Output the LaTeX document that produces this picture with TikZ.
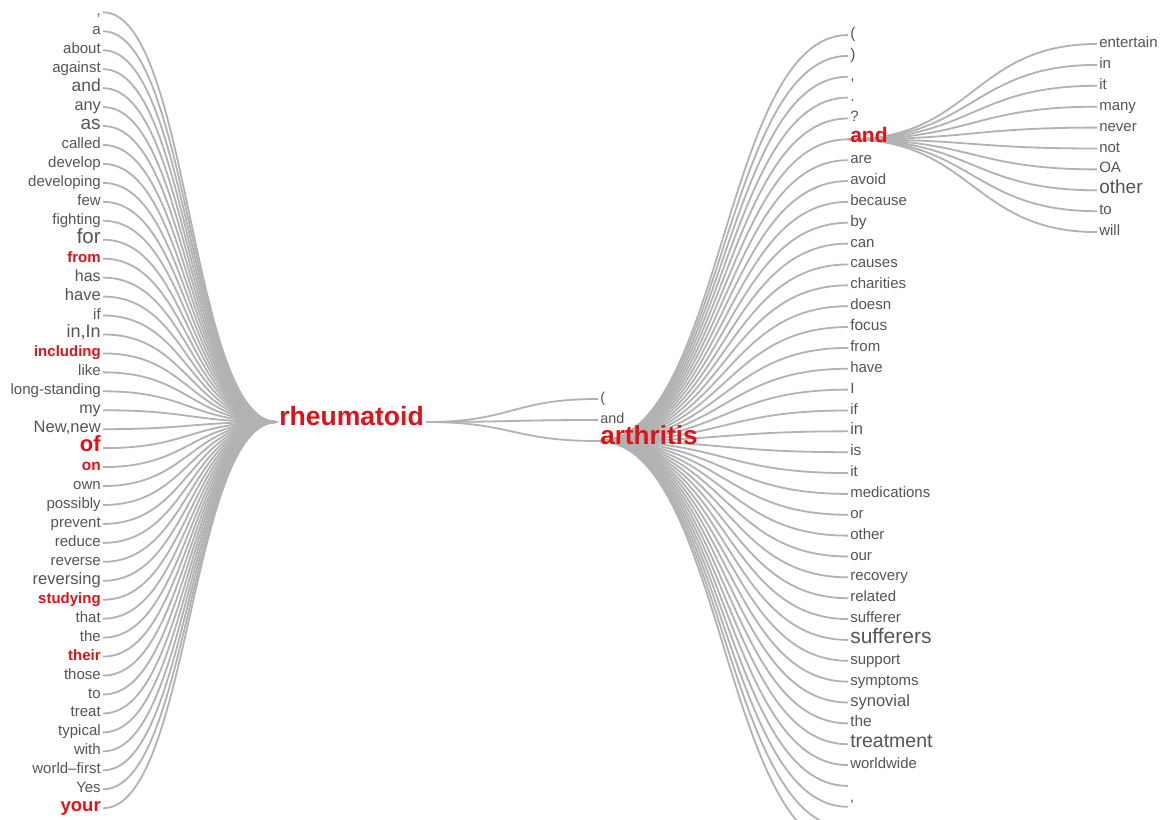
\documentclass[tikz,border=0pt]{standalone}
\usepackage{fontspec}
\setmainfont{Liberation Sans}
\usetikzlibrary{backgrounds,calc}
\definecolor{txt}{RGB}{85,85,85}
\definecolor{hot}{RGB}{222,18,24}
\definecolor{ln}{RGB}{178,178,178}
\tikzset{
  lw/.style={anchor=mid east, inner sep=0pt, inner xsep=1.5pt, text=txt, font=\fontsize{#1}{#1}\selectfont},
  rw/.style={anchor=mid west, inner sep=0pt, inner xsep=1.5pt, text=txt, font=\fontsize{#1}{#1}\selectfont},
  lhot/.style={lw=#1, text=hot, font=\fontsize{#1}{#1}\selectfont\bfseries},
  rhot/.style={rw=#1, text=hot, font=\fontsize{#1}{#1}\selectfont\bfseries},
  conn/.style={draw=ln, line width=1.35pt}
}
\newcommand\lk[2]{\draw[conn] let \p1=(#1), \p2=(#2) in (\p1) .. controls ({(\x1+\x2)/2},\y1) and ({(\x1+\x2)/2},\y2) .. (\p2);}
\begin{document}
\begin{tikzpicture}[x=0.75pt,y=-0.75pt]
\useasboundingbox (0,0) rectangle (1161,820);
% roots
\node[rhot=19.9] (rh) at (277,422) {rheumatoid};
\node[rw=10.8] (c1) at (598,399) {(};
\node[rw=10.8] (c2) at (598,420) {and};
\node[rhot=19.6] (ar) at (598,441) {arthritis};
% left column
\node[lw=11.25] (L0) at (103,12.3) {,};
\node[lw=11.25] (L1) at (103,31.25) {a};
\node[lw=11.25] (L2) at (103,50.2) {about};
\node[lw=11.25] (L3) at (103,69.15) {against};
\node[lw=13.1] (L4) at (103,88.1) {and};
\node[lw=12.2] (L5) at (103,107.05) {any};
\node[lw=14.25] (L6) at (103,126) {as};
\node[lw=11.25] (L7) at (103,144.95) {called};
\node[lw=11.25] (L8) at (103,163.9) {develop};
\node[lw=11.25] (L9) at (103,182.85) {developing};
\node[lw=11.25] (L10) at (103,201.8) {few};
\node[lw=11.25] (L11) at (103,220.75) {fighting};
\node[lw=15.4] (L12) at (103,239.7) {for};
\node[lhot=11.25] (L13) at (103,258.65) {from};
\node[lw=12] (L14) at (103,277.6) {has};
\node[lw=12.4] (L15) at (103,296.55) {have};
\node[lw=11.25] (L16) at (103,315.5) {if};
\node[lw=13.5] (L17) at (103,334.45) {in,In};
\node[lhot=11.25] (L18) at (103,353.4) {including};
\node[lw=11.25] (L19) at (103,372.35) {like};
\node[lw=11.25] (L20) at (103,391.3) {long-standing};
\node[lw=12] (L21) at (103,410.25) {my};
\node[lw=12.4] (L22) at (103,429.2) {New,new};
\node[lhot=16.5] (L23) at (103,448.15) {of};
\node[lhot=11.6] (L24) at (103,467.1) {on};
\node[lw=11.25] (L25) at (103,486.05) {own};
\node[lw=11.25] (L26) at (103,505) {possibly};
\node[lw=11.25] (L27) at (103,523.95) {prevent};
\node[lw=11.25] (L28) at (103,542.9) {reduce};
\node[lw=11.25] (L29) at (103,561.85) {reverse};
\node[lw=12.4] (L30) at (103,580.8) {reversing};
\node[lhot=11.25] (L31) at (103,599.75) {studying};
\node[lw=11.25] (L32) at (103,618.7) {that};
\node[lw=11.25] (L33) at (103,637.65) {the};
\node[lhot=11.25] (L34) at (103,656.6) {their};
\node[lw=11.25] (L35) at (103,675.55) {those};
\node[lw=11.25] (L36) at (103,694.5) {to};
\node[lw=11.25] (L37) at (103,713.45) {treat};
\node[lw=11.25] (L38) at (103,732.4) {typical};
\node[lw=11.25] (L39) at (103,751.35) {with};
\node[lw=11.25] (L40) at (103,770.3) {world--first};
\node[lw=11.25] (L41) at (103,789.25) {Yes};
\node[lhot=13.9] (L42) at (103,808.2) {your};
% right column
\node[rw=11.6] (R0) at (848,35) {(};
\node[rw=11.6] (R1) at (848,55.86) {)};
\node[rw=11.6] (R2) at (848,76.72) {,};
\node[rw=11.6] (R3) at (848,97.58) {.};
\node[rw=11.25] (R4) at (848,118.44) {?};
\node[rhot=15.75] (R5) at (848,139.3) {and};
\node[rw=11.25] (R6) at (848,160.16) {are};
\node[rw=11.25] (R7) at (848,181.02) {avoid};
\node[rw=11.25] (R8) at (848,201.88) {because};
\node[rw=11.6] (R9) at (848,222.74) {by};
\node[rw=11.25] (R10) at (848,243.6) {can};
\node[rw=11.25] (R11) at (848,264.46) {causes};
\node[rw=11.25] (R12) at (848,285.32) {charities};
\node[rw=11.25] (R13) at (848,306.18) {doesn};
\node[rw=11.6] (R14) at (848,327.04) {focus};
\node[rw=11.25] (R15) at (848,347.9) {from};
\node[rw=11.25] (R16) at (848,368.76) {have};
\node[rw=11.25] (R17) at (848,389.62) {I};
\node[rw=11.25] (R18) at (848,410.48) {if};
\node[rw=12.4] (R19) at (848,431.34) {in};
\node[rw=11.6] (R20) at (848,452.2) {is};
\node[rw=11.25] (R21) at (848,473.06) {it};
\node[rw=11.25] (R22) at (848,493.92) {medications};
\node[rw=11.25] (R23) at (848,514.78) {or};
\node[rw=11.25] (R24) at (848,535.64) {other};
\node[rw=11.25] (R25) at (848,556.5) {our};
\node[rw=11.25] (R26) at (848,577.36) {recovery};
\node[rw=11.25] (R27) at (848,598.22) {related};
\node[rw=11.25] (R28) at (848,619.08) {sufferer};
\node[rw=15.75] (R29) at (848,639.94) {sufferers};
\node[rw=11.25] (R30) at (848,660.8) {support};
\node[rw=11.25] (R31) at (848,681.66) {symptoms};
\node[rw=12.4] (R32) at (848,702.52) {synovial};
\node[rw=11.6] (R33) at (848,723.38) {the};
\node[rw=14.6] (R34) at (848,744.24) {treatment};
\node[rw=11.25] (R35) at (848,765.1) {worldwide};
\coordinate (R36) at (848,785.96);
\node[rw=11.25] (R37) at (848,806.82) {’};
\coordinate (R38) at (848,827.68);
\coordinate (R39) at (848,848.54);
% top-right branch
\node[rw=11.25] (A0) at (1097,44) {entertain};
\node[rw=11.25] (A1) at (1097,64.9) {in};
\node[rw=11.25] (A2) at (1097,85.8) {it};
\node[rw=11.25] (A3) at (1097,106.7) {many};
\node[rw=11.25] (A4) at (1097,127.6) {never};
\node[rw=11.25] (A5) at (1097,148.5) {not};
\node[rw=11.25] (A6) at (1097,169.4) {OA};
\node[rw=14.25] (A7) at (1097,190.3) {other};
\node[rw=11.25] (A8) at (1097,211.2) {to};
\node[rw=11.25] (A9) at (1097,232.1) {will};
\begin{pgfonlayer}{background}
\fill[white] (0,0) rectangle (1161,820);
\clip (0,0) rectangle (1161,820);
\foreach \i in {0,...,42}{\lk{L\i.mid east}{rh.mid west}}
\lk{rh.mid east}{c1.mid west}
\lk{rh.mid east}{c2.mid west}
\lk{rh.mid east}{ar.mid west}
\foreach \i in {0,...,35,37}{\lk{ar.mid west}{R\i.mid west}}
\foreach \i in {36,38,39}{\lk{ar.mid west}{R\i}}
\foreach \i in {0,...,9}{\lk{R5.mid west}{A\i.mid west}}
\end{pgfonlayer}
\end{tikzpicture}
\end{document}
